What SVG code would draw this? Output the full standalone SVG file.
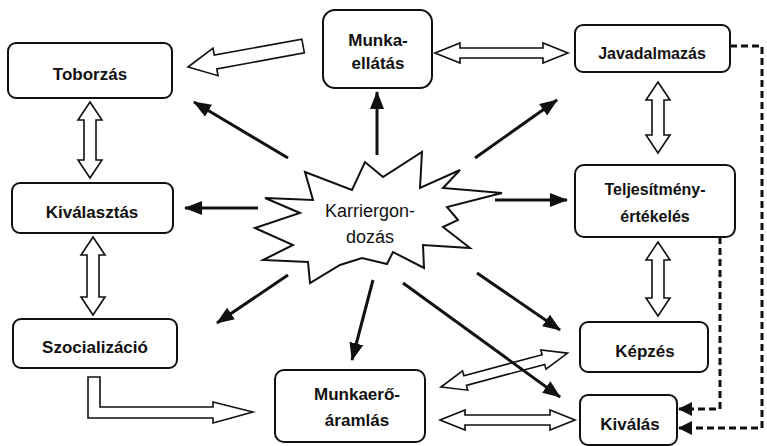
<svg xmlns="http://www.w3.org/2000/svg" width="767" height="446" viewBox="0 0 767 446">
<style>
.box{fill:#fff;stroke:#111;stroke-width:2}
.lbl{font-family:"Liberation Sans",Arial,sans-serif;font-weight:bold;font-size:17px;fill:#111;text-anchor:middle}
.sm{font-size:16px}
.star{fill:#fff;stroke:#111;stroke-width:2;stroke-linejoin:miter}
.stxt{font-family:"Liberation Sans",Arial,sans-serif;font-size:18px;fill:#111;text-anchor:middle}
.hollow{fill:#fff;stroke:#111;stroke-width:1.6;stroke-linejoin:miter}
.solid{fill:none;stroke:#111;stroke-width:3;marker-end:url(#ah)}
.dash{fill:none;stroke:#111;stroke-width:3;stroke-dasharray:7 4;marker-end:url(#dh)}
</style>
<defs>
<marker id="ah" markerUnits="userSpaceOnUse" markerWidth="18" markerHeight="14" refX="17" refY="7" orient="auto">
<path d="M0,0 L18,7 L0,14 z" fill="#111"/>
</marker>
<marker id="dh" markerUnits="userSpaceOnUse" markerWidth="14" markerHeight="14" refX="13" refY="7" orient="auto">
<path d="M0,0 L14,7 L0,14 z" fill="#111"/>
</marker>
</defs>
<rect width="767" height="446" fill="#fff"/>

<g id="connectors">
<polygon class="hollow" transform="translate(188,67) rotate(-10.35)" points="0,0 28,-14 28,-7 117,-7 117,7 28,7 28,14"/>
<polygon class="hollow" points="435,53 460,43 460,48 543,48 543,43 568,53 543,63 543,58 460,58 460,63"/>
<polygon class="hollow" points="90,102 102,120 96,120 96,160 102,160 90,178 78,160 84,160 84,120 78,120"/>
<polygon class="hollow" points="93,237 105,255 99,255 99,297 105,297 93,315 81,297 87,297 87,255 81,255"/>
<polygon class="hollow" points="658,82 670,100 664,100 664,135 670,135 658,153 646,135 652,135 652,100 646,100"/>
<polygon class="hollow" points="658,242 670,260 664,260 664,298 670,298 658,316 646,298 652,298 652,260 646,260"/>
<polygon class="hollow" points="88,377 100,377 100,407 213,407 213,402 253,412 213,423 213,418 88,418"/>
<polygon class="hollow" points="440,420 465,410 465,415 550,415 550,410 575,420 550,430 550,425 465,425 465,430"/>
<polygon class="hollow" transform="translate(441,387) rotate(-15)" points="0,0 25,-10 25,-5 106,-5 106,-10 131,0 106,10 106,5 25,5 25,10"/>

<line class="solid" x1="377" y1="155" x2="377" y2="92"/>
<line class="solid" x1="475" y1="158" x2="557" y2="100"/>
<line class="solid" x1="288" y1="158" x2="194" y2="102"/>
<line class="solid" x1="258" y1="208" x2="185" y2="208"/>
<line class="solid" x1="495" y1="200" x2="567" y2="200"/>
<line class="solid" x1="288" y1="275" x2="217" y2="323"/>
<line class="solid" x1="373" y1="280" x2="352" y2="360"/>
<line class="solid" x1="403" y1="283" x2="560" y2="397"/>
<line class="solid" x1="477" y1="273" x2="560" y2="330"/>

<path class="dash" d="M730,46 H762 V428 H679"/>
<path class="dash" d="M720,237 V409 H679"/>
</g>

<g id="karriergondozas">
<polygon class="star" points="305,172 352,190 365,162 383,177 422,152 420,188 460,170 443,188 502,193 447,207 458,220 443,227 470,248 423,245 424,268 393,252 387,264 362,258 340,265 310,283 308,262 263,260 293,245 255,228 300,213 265,198 313,200"/>
<text class="stxt" x="370" y="217">Karriergon-</text>
<text class="stxt" x="370" y="243">dozás</text>
</g>

<g id="toborzas">
<rect class="box" x="8" y="43" width="164" height="55" rx="8"/>
<text class="lbl" x="90" y="80">Toborzás</text>
</g>
<g id="munkaellatas">
<rect class="box" x="323" y="10" width="109" height="78" rx="12"/>
<text class="lbl" x="378" y="46">Munka-</text>
<text class="lbl" x="378" y="69">ellátás</text>
</g>
<g id="javadalmazas">
<rect class="box" x="575" y="25" width="155" height="47" rx="8"/>
<text class="lbl sm" x="652" y="59">Javadalmazás</text>
</g>
<g id="kivalasztas">
<rect class="box" x="12" y="183" width="161" height="50" rx="8"/>
<text class="lbl" x="92" y="218">Kiválasztás</text>
</g>
<g id="teljesitmeny">
<rect class="box" x="575" y="165" width="160" height="72" rx="9"/>
<text class="lbl sm" x="655" y="195">Teljesítmény-</text>
<text class="lbl sm" x="655" y="222">értékelés</text>
</g>
<g id="szocializacio">
<rect class="box" x="13" y="319" width="164" height="49" rx="8"/>
<text class="lbl" x="95" y="353">Szocializáció</text>
</g>
<g id="kepzes">
<rect class="box" x="580" y="322" width="128" height="50" rx="8"/>
<text class="lbl" x="645" y="357">Képzés</text>
</g>
<g id="munkaeroaramlas">
<rect class="box" x="275" y="370" width="150" height="72" rx="9"/>
<text class="lbl" x="357" y="400">Munkaerő-</text>
<text class="lbl" x="357" y="426">áramlás</text>
</g>
<g id="kivalas">
<rect class="box" x="580" y="395" width="97" height="50" rx="8"/>
<text class="lbl" x="630" y="430">Kiválás</text>
</g>
</svg>
